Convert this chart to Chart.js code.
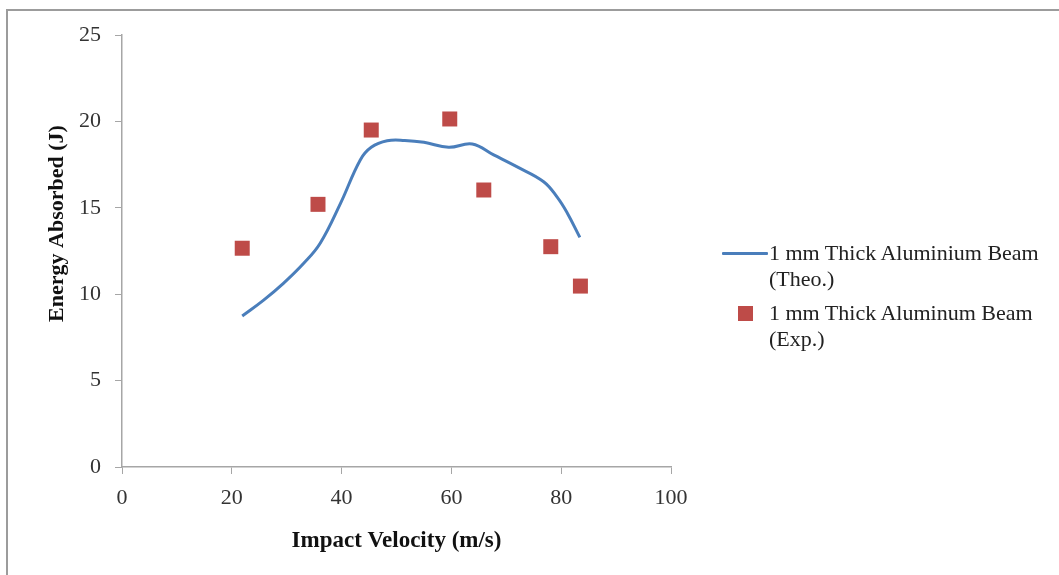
<!DOCTYPE html>
<html>
<head>
<meta charset="utf-8">
<script src="https://cdn.jsdelivr.net/npm/chart.js@4/dist/chart.umd.min.js"></script>
<style>
  html, body { margin: 0; padding: 0; background: #fff; overflow: hidden; }
  #wrap { position: relative; width: 1059px; height: 575px; }
  #frame { position: absolute; left: 6px; top: 9px; width: 1200px; height: 700px;
           border-left: 2px solid #9c9c9c; border-top: 2px solid #9c9c9c; }
  #c { position: absolute; left: 0; top: 0; }
  .legend { position: absolute; left: 0; top: 0; font-family: "Liberation Serif", "Times New Roman", serif;
            font-size: 22px; color: #222; line-height: 26px; }
  .item { position: absolute; white-space: nowrap; }
  .swline { position: absolute; height: 3px; background: #4a7ebb; border-radius: 1px; }
  .swsq { position: absolute; width: 15px; height: 15px; background: #be4b48; }
</style>
</head>
<body>
<div id="wrap">
  <div id="frame"></div>
  <canvas id="c" width="1059" height="575"></canvas>
  <div class="legend">
    <div class="swline" style="left:722px; top:252px; width:46px;"></div>
    <div class="item" style="left:769px; top:240px;">1 mm Thick Aluminium Beam<br>(Theo.)</div>
    <div class="swsq" style="left:738px; top:306px;"></div>
    <div class="item" style="left:769px; top:300px;">1 mm Thick Aluminum Beam<br>(Exp.)</div>
  </div>
</div>
<script>
// ---- data ----
const theoLabel = "1 mm Thick Aluminium Beam (Theo.)";
const expLabel = "1 mm Thick Aluminum Beam (Exp.)";
const theoX = [21.9, 25.8, 29.4, 33.1, 36.1, 39.8, 43.4, 45.4, 48.3, 51.5, 55.0, 59.5, 63.8, 67.7, 71.9, 76.8, 79.3, 81.1, 83.4];
const theoY = [8.74, 9.66, 10.63, 11.79, 12.95, 15.26, 17.77, 18.5, 18.88, 18.9, 18.79, 18.5, 18.69, 18.06, 17.38, 16.51, 15.6, 14.7, 13.29];
const expX = [21.9, 35.7, 45.4, 59.7, 65.9, 78.1, 83.5];
const expY = [12.66, 15.2, 19.5, 20.14, 16.03, 12.75, 10.47];
const xTitle = "Impact Velocity (m/s)";
const yTitle = "Energy Absorbed (J)";
const xMin = 0, xMax = 100, xStep = 20;
const yMin = 0, yMax = 25, yStep = 5;

const theoPts = theoX.map((x, i) => ({ x: x, y: theoY[i] }));
const expPts = expX.map((x, i) => ({ x: x, y: expY[i] }));

const axisGray = '#a6a6a6';
const serif = "'Liberation Serif', 'Times New Roman', serif";

new Chart(document.getElementById('c'), {
  type: 'scatter',
  data: {
    datasets: [
      {
        label: theoLabel,
        data: theoPts,
        showLine: true,
        borderColor: '#4a7ebb',
        backgroundColor: '#4a7ebb',
        borderWidth: 3,
        pointRadius: 0,
        tension: 0.4,
        cubicInterpolationMode: 'default'
      },
      {
        label: expLabel,
        data: expPts,
        showLine: false,
        pointStyle: 'rect',
        pointRadius: 10.6,
        pointBorderWidth: 0,
        backgroundColor: '#be4b48',
        borderColor: '#be4b48'
      }
    ]
  },
  options: {
    responsive: false,
    animation: false,
    layout: { padding: { left: 0, top: 35, right: 388, bottom: 0 } },
    plugins: { legend: { display: false }, tooltip: { enabled: false } },
    scales: {
      x: {
        type: 'linear',
        min: xMin, max: xMax,
        afterFit: (s) => { s.height = 108; },
        ticks: { stepSize: xStep, padding: 11, color: '#333', font: { family: serif, size: 22 }, maxRotation: 0 },
        grid: { drawOnChartArea: false, drawTicks: true, tickLength: 7, color: axisGray },
        border: { color: axisGray, width: 1.5 },
        title: { display: true, text: xTitle, color: '#111', font: { family: serif, size: 23, weight: 'bold' }, padding: { top: 0, bottom: 20 } }
      },
      y: {
        type: 'linear',
        min: yMin, max: yMax,
        afterFit: (s) => { s.width = 122; },
        ticks: { stepSize: yStep, padding: 14, color: '#333', font: { family: serif, size: 22 } },
        grid: { drawOnChartArea: false, drawTicks: true, tickLength: 7, color: axisGray },
        border: { color: axisGray, width: 1.5 },
        title: { display: true, text: '\u00A0'.repeat(10) + yTitle, color: '#111', font: { family: serif, size: 22, weight: 'bold' }, padding: { top: 44, bottom: 0 } }
      }
    }
  }
});
</script>
</body>
</html>
